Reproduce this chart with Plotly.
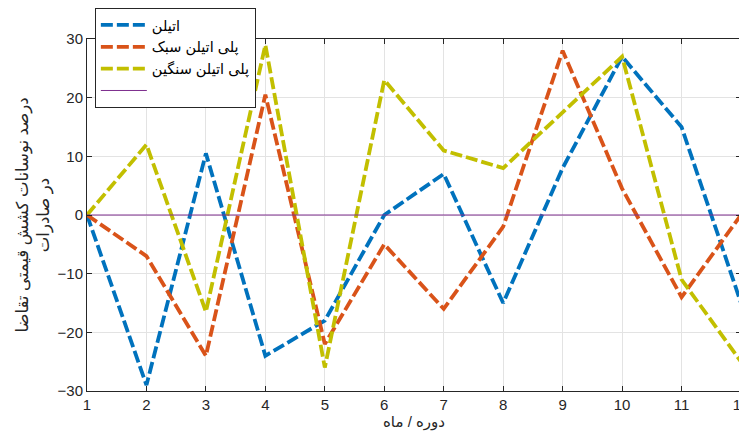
import plotly.graph_objects as go

months = [1, 2, 3, 4, 5, 6, 7, 8, 9, 10, 11, 12]
ethylene = [0, -29, 10.5, -24, -18, 0, 7, -15, 8, 27, 15, -15]
ldpe = [0, -7, -24, 20.5, -22, -5, -16, -2, 28, 4.5, -14, 0]
hdpe = [0, 12, -16.5, 29, -26, 23, 11, 8, 17.5, 27, -11, -25]
zero_line = [0] * len(months)

names = ["اتیلن", "پلی اتیلن سبک", "پلی اتیلن سنگین", ""]
colors = ["#0072BD", "#D95319", "#C2BF00", "#7E2F8E"]
y_ticks = [-30, -20, -10, 0, 10, 20, 30]

fig = go.Figure()
for vals, name, col in zip([ethylene, ldpe, hdpe], names[:3], colors[:3]):
    fig.add_trace(go.Scatter(x=months, y=vals, mode="lines", name=name,
                             line=dict(color=col, width=3.8, dash="12px,4px")))
fig.add_trace(go.Scatter(x=months, y=zero_line, mode="lines", name=names[3],
                         line=dict(color=colors[3], width=1)))

font_family = "Liberation Sans, Arial, DejaVu Sans, sans-serif"
axis_common = dict(
    showgrid=True, gridcolor="#E3E3E3", gridwidth=1,
    zeroline=False, showline=True, linecolor="#262626", linewidth=1,
    mirror="allticks", ticks="inside", ticklen=5, tickcolor="#262626",
    tickfont=dict(family=font_family, size=15, color="#262626"),
    automargin=False, ticklabeloverflow="allow",
)

# page body has an 8px margin, so the figure is sized to fill the rest
fig.update_layout(
    width=739, height=428,
    margin=dict(l=79, r=6, t=31, b=45, autoexpand=False),
    paper_bgcolor="white", plot_bgcolor="white",
    font=dict(family=font_family, color="#262626"),
    xaxis=dict(range=[1, 12], tickvals=months, **axis_common,
               title=dict(text="دوره / ماه", font=dict(size=15), standoff=4)),
    yaxis=dict(range=[-30, 30], tickvals=y_ticks, **axis_common,
               title=dict(text="درصد نوسانات کشش قیمتی تقاضا<br>در صادرات",
                          font=dict(size=16.5), standoff=3)),
    legend=dict(x=0.012, y=1.088, xanchor="left", yanchor="top",
                bgcolor="white", bordercolor="#262626", borderwidth=1,
                font=dict(size=14.5, color="#000000"), tracegroupgap=0,
                itemwidth=46),
    showlegend=True,
)

fig.write_html("out.html")
